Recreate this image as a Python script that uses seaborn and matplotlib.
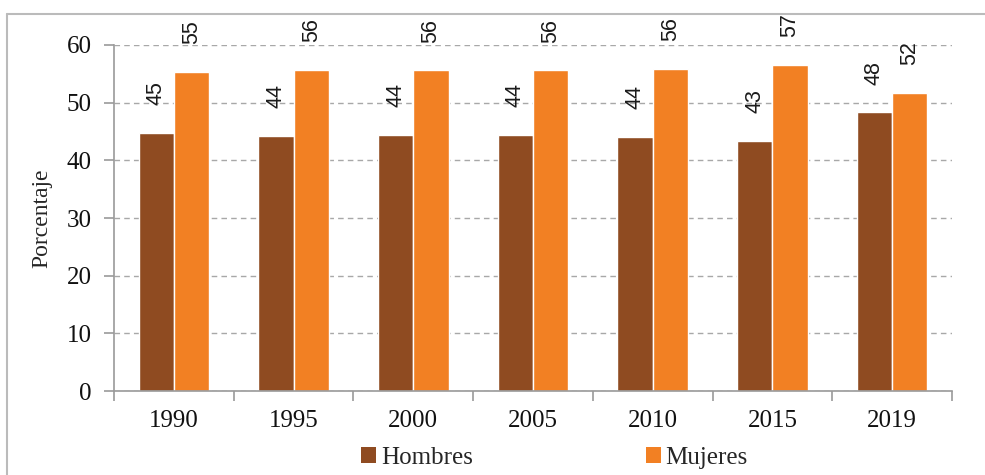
import matplotlib
matplotlib.use("Agg")
import matplotlib.pyplot as plt
from matplotlib.lines import Line2D
from matplotlib.patches import Patch
from matplotlib.ticker import FixedLocator
import pandas as pd
import seaborn as sns

years = ["1990", "1995", "2000", "2005", "2010", "2015", "2019"]
hombres = [44.7, 44.3, 44.4, 44.4, 44.1, 43.4, 48.3]
mujeres = [55.3, 55.7, 55.6, 55.6, 55.9, 56.6, 51.7]
series = ["Hombres", "Mujeres"]
colors = ["#8F4B21", "#F28023"]

df = pd.DataFrame({
    "year": years * 2,
    "value": hombres + mujeres,
    "sexo": [series[0]] * len(years) + [series[1]] * len(years),
})

sns.set_theme(style="white")
plt.rcParams["font.family"] = ["Liberation Serif", "DejaVu Serif"]

fig = plt.figure(figsize=(9.85, 4.75), dpi=100)
ax = fig.add_axes([0.1157, 0.1768, 0.9665 - 0.1157, 0.9053 - 0.1768])

sns.barplot(data=df, x="year", y="value", hue="sexo", palette=colors,
            width=0.59, gap=0, saturation=1, ax=ax, legend=False)

for cont, vals in zip(ax.containers, [hombres, mujeres]):
    ax.bar_label(cont, labels=[f"{v:.0f}" for v in vals], rotation=90,
                 padding=20, fontsize=15.5, family=["Liberation Sans", "DejaVu Sans"],
                 color="#1a1a1a")

ax.set_ylim(0, 60)
ax.set_xlim(-0.5, len(years) - 0.5)
ax.set_yticks(range(0, 61, 10))
ax.yaxis.grid(True, linestyle=(0, (4, 3)), color="#A8A8A8", linewidth=1)
ax.set_axisbelow(True)

ax.set_xlabel("")
ax.set_ylabel("Porcentaje", fontsize=17, labelpad=10)

for s in ["top", "right"]:
    ax.spines[s].set_visible(False)
for s in ["left", "bottom"]:
    ax.spines[s].set_color("#9A9A9A")
    ax.spines[s].set_linewidth(1.2)

ax.tick_params(axis="y", which="major", length=7, width=1.2, color="#9A9A9A",
               direction="out", left=True, labelsize=18, pad=9, labelcolor="#111111")
ax.tick_params(axis="x", which="major", length=0, labelsize=18, pad=14, labelcolor="#111111")
ax.xaxis.set_minor_locator(FixedLocator([i - 0.5 for i in range(len(years) + 1)]))
ax.tick_params(axis="x", which="minor", length=7, width=1.2, color="#9A9A9A",
               direction="out", bottom=True)

handles = [Patch(facecolor=c, edgecolor="none") for c in colors]
fig.legend(handles, series, loc="center", bbox_to_anchor=(0.563, 0.036), ncol=2,
           frameon=False, prop={"family": "Liberation Serif", "size": 18},
           handlelength=0.6, handleheight=0.6, handletextpad=0.2, columnspacing=6.9)

# outer frame (top and left edges visible in the reference)
fig.add_artist(Line2D([7 / 985, 1.0], [1 - 14 / 475, 1 - 14 / 475],
                      transform=fig.transFigure, color="#BBBBBB", linewidth=1.5))
fig.add_artist(Line2D([7 / 985, 7 / 985], [0.0, 1 - 14 / 475],
                      transform=fig.transFigure, color="#BBBBBB", linewidth=1.5))

fig.savefig("out.png", dpi=100)
